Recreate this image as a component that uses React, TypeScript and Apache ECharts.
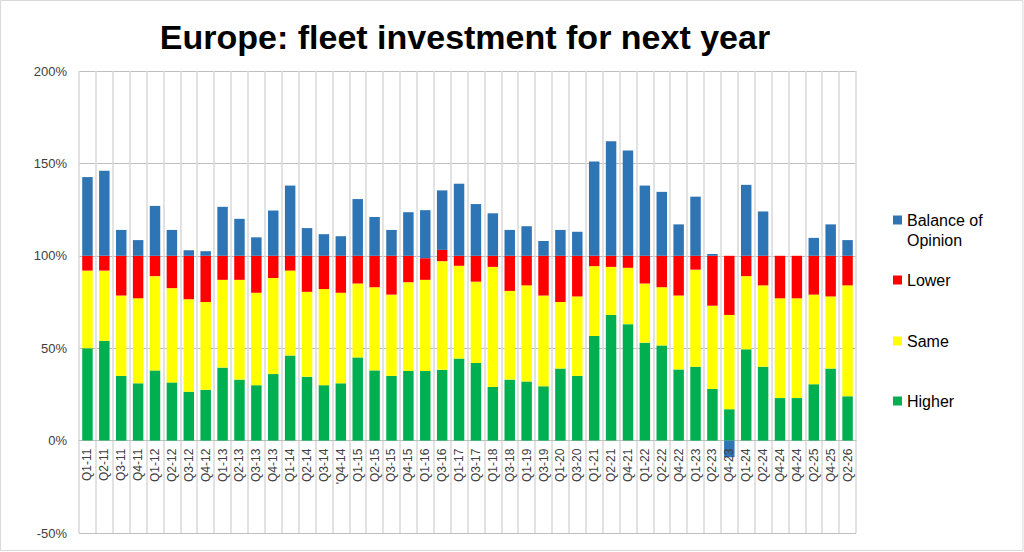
import React, { useEffect, useRef } from "react";
import * as echarts from "echarts";

const categories = [
  "Q1-11", "Q2-11", "Q3-11", "Q4-11", "Q1-12", "Q2-12", "Q3-12", "Q4-12",
  "Q1-13", "Q2-13", "Q3-13", "Q4-13", "Q1-14", "Q2-14", "Q3-14", "'Q4-14",
  "Q1-15", "Q2-15", "Q3-15", "Q4-15", "Q1-16", "Q3-16", "Q1-17", "Q3-17",
  "Q1-18", "Q3-18", "Q1-19", "Q3-19", "Q1-20", "Q3-20", "Q1-21", "Q2-21",
  "Q4-21", "Q1-22", "Q2-22", "Q4-22", "Q1-23", "Q2-23", "Q4-23", "Q1-24",
  "Q2-24", "Q4-24", "Q4-24", "Q2-25", "Q4-25", "Q2-26",
];

const higher = [
  50, 54, 35, 31, 38, 31.5, 26.5, 27.5,
  39.5, 33, 30, 36, 46, 34.5, 30, 31,
  45, 38, 35, 37.7, 37.7, 38.3, 44.4, 42,
  29, 33, 32, 29.4, 39, 35, 56.6, 68,
  63, 53, 51.5, 38.5, 40, 28, 17, 49.4,
  40, 23, 23, 30.5, 39, 24,
];

const same = [
  42, 38, 43.5, 46, 51, 51, 50, 47.5,
  47.5, 54, 50, 52, 46, 46, 52, 49,
  40, 45, 44, 48, 49.3, 58.8, 50.2, 44,
  65, 48, 52, 49.1, 36, 43, 37.8, 26,
  30.5, 32, 31.5, 40, 52.5, 45, 51, 39.6,
  44, 54, 54, 48.5, 39, 60,
];

const lower = [
  8, 8, 21.5, 23, 11, 17.5, 23.5, 25,
  13, 13, 20, 12, 8, 19.5, 18, 20,
  15, 17, 21, 14.3, 11.7, 6.1, 5.4, 14,
  6, 19, 16, 21.5, 25, 22, 5.6, 6,
  6.5, 15, 17, 21.5, 7.5, 27, 32, 11,
  16, 23, 23, 21, 22, 16,
];

const balance = [
  42.6, 46, 14, 8.5, 27, 14, 3, 2.5,
  26.5, 20, 10, 24.5, 38, 15, 11.7, 10.6,
  30.7, 21, 14, 23.6, 26, 32.2, 39, 28,
  23, 14, 16, 8, 14, 13, 51, 62,
  57, 38, 34.6, 17, 32, 1, -9, 38.4,
  24, 0, 0, 9.7, 17, 8.5,
];

const yTicks = [-50, 0, 50, 100, 150, 200];

const FONT = "'Liberation Sans', Arial, Helvetica, sans-serif";

const COLORS = {
  higher: "#00b050",
  same: "#ffff00",
  lower: "#ff0000",
  balance: "#2e75b6",
};

const GRID_TOP = 71;
const GRID_BOTTOM = 19;
const CHART_H = 552;

function legendFor(name: string, top: number, formatter?: () => string) {
  return {
    data: [name],
    left: 893,
    top,
    orient: "vertical",
    padding: 0,
    itemWidth: 9,
    itemHeight: 9,
    icon: "rect",
    selectedMode: false,
    textStyle: {
      fontFamily: FONT,
      fontSize: 16,
      color: "#000000",
      lineHeight: 20,
    },
    ...(formatter ? { formatter } : {}),
  };
}

export default function App() {
  const ref = useRef<HTMLDivElement>(null);

  useEffect(() => {
    if (!ref.current) return;
    const chart = echarts.init(ref.current, undefined, { renderer: "svg" });

    const yMin = yTicks[0];
    const yMax = yTicks[yTicks.length - 1];
    const plotH = CHART_H - GRID_TOP - GRID_BOTTOM;
    // move the category axis from the bottom edge up to the 0% line
    const zeroOffset = -(plotH * (0 - yMin)) / (yMax - yMin);

    const barCommon = {
      type: "bar",
      stack: "total",
      barWidth: "62%",
      xAxisIndex: 0,
    };

    chart.setOption({
      animation: false,
      backgroundColor: "#ffffff",
      grid: {
        left: 79,
        right: 168,
        top: GRID_TOP,
        bottom: GRID_BOTTOM,
        containLabel: false,
        outerBoundsMode: "none",
      },
      graphic: [
        {
          type: "rect",
          shape: { x: 0.5, y: 0.5, width: 1022.5, height: 550 },
          style: { fill: "none", stroke: "#d9d9d9", lineWidth: 1 },
          silent: true,
        },
        {
          type: "text",
          x: 465,
          y: 37,
          style: {
            text: "Europe: fleet investment for next year",
            fontFamily: FONT,
            fontWeight: "bold",
            fontSize: 34,
            fill: "#000000",
            align: "center",
            verticalAlign: "middle",
          },
        },
      ],
      legend: [
        legendFor("Balance of Opinion", 190, () => "\nBalance of\nOpinion"),
        legendFor("Lower", 270),
        legendFor("Same", 331),
        legendFor("Higher", 391),
      ],
      xAxis: [
        {
          type: "category",
          data: categories,
          boundaryGap: true,
          position: "bottom",
          offset: zeroOffset,
          axisLine: { show: true, onZero: false, lineStyle: { color: "#bfbfbf", width: 1 } },
          axisTick: { show: false },
          axisLabel: { show: false },
          splitLine: {
            show: true,
            interval: 0,
            lineStyle: { color: "#d9d9d9", width: 1.5 },
          },
        },
        {
          type: "category",
          data: categories,
          boundaryGap: true,
          position: "bottom",
          offset: zeroOffset,
          z: 10,
          axisLine: { show: false, onZero: false },
          axisTick: { show: false },
          splitLine: { show: false },
          axisLabel: {
            rotate: 90,
            interval: 0,
            margin: 8,
            fontFamily: FONT,
            fontSize: 12,
            color: "#404040",
          },
        },
      ],
      yAxis: {
        type: "value",
        min: yMin,
        max: yMax,
        interval: 50,
        axisLine: { show: false },
        axisTick: { show: false },
        axisLabel: {
          margin: 12,
          fontFamily: FONT,
          fontSize: 13,
          color: "#404040",
          formatter: (v: number) => `${v}%`,
        },
        splitLine: { show: true, lineStyle: { color: "#bfbfbf", width: 1 } },
      },
      series: [
        { ...barCommon, name: "Higher", data: higher, itemStyle: { color: COLORS.higher } },
        { ...barCommon, name: "Same", data: same, itemStyle: { color: COLORS.same } },
        { ...barCommon, name: "Lower", data: lower, itemStyle: { color: COLORS.lower } },
        { ...barCommon, name: "Balance of Opinion", data: balance, itemStyle: { color: COLORS.balance } },
      ],
    });

    return () => {
      chart.dispose();
    };
  }, []);

  return (
    <div
      ref={ref}
      style={{ position: "fixed", left: 0, top: 0, width: 1024, height: 552 }}
    />
  );
}
